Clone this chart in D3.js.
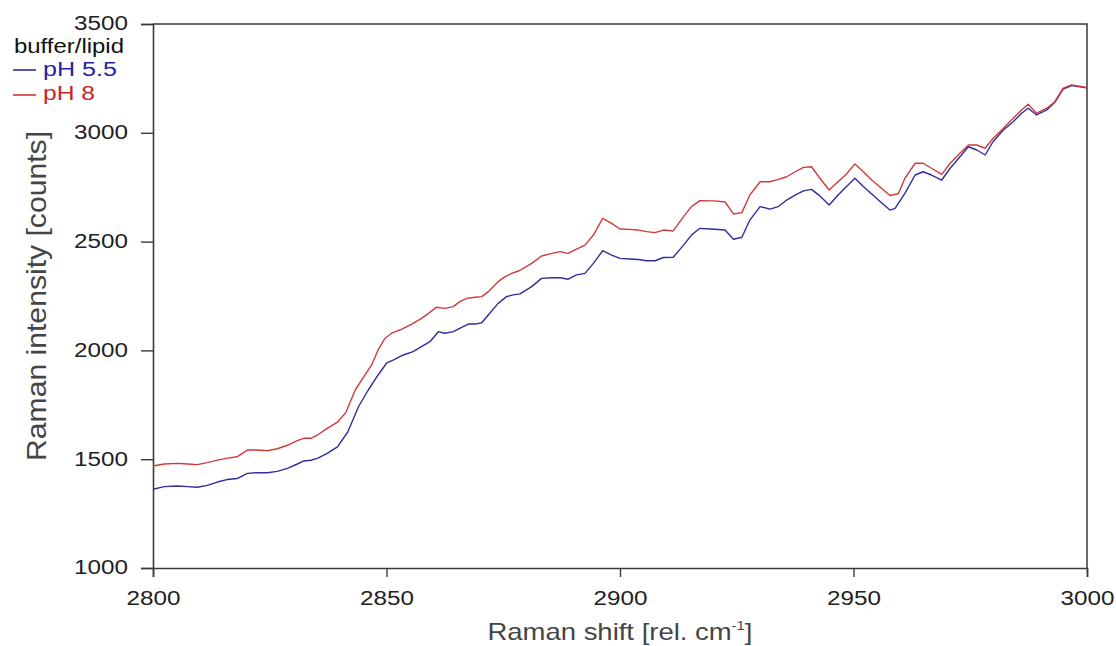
<!DOCTYPE html>
<html>
<head>
<meta charset="utf-8">
<script src="https://cdn.jsdelivr.net/npm/d3@7"></script>
<style>
  html, body { margin: 0; padding: 0; background: #fff; }
  svg { display: block; font-family: "Liberation Sans", Arial, sans-serif; }
</style>
</head>
<body>
<svg id="chart" width="1116" height="646"></svg>
<script>
// ---------- data ----------
const xTicks = [2800, 2850, 2900, 2950, 3000];
const yTicks = [1000, 1500, 2000, 2500, 3000, 3500];
const legendTitle = "buffer/lipid";
const seriesNames = ["pH 5.5", "pH 8"];

const shiftPH55 = [2800, 2802.4, 2805.2, 2807.4, 2809.5, 2811.6, 2813.8, 2816, 2818, 2820.2, 2822.3, 2824.5, 2826.6, 2828.8, 2830.9, 2832.3, 2833.8, 2835.2, 2837.3, 2839.5, 2841.7, 2844, 2846.1, 2848.2, 2850, 2851.5, 2853.6, 2855.7, 2857.5, 2859.3, 2861.1, 2862.5, 2864.3, 2866.1, 2867.5, 2869, 2870.4, 2871.8, 2873.9, 2875.7, 2877.1, 2878.6, 2881.1, 2883.2, 2885.4, 2887.2, 2888.9, 2890.7, 2892.5, 2894.3, 2896.3, 2898.2, 2900, 2902.1, 2903.9, 2905.7, 2907.5, 2909.3, 2911.4, 2913.6, 2915.3, 2917.1, 2919.3, 2920.3, 2922.5, 2924.3, 2926.1, 2927.8, 2930, 2932.1, 2933.9, 2935.7, 2937.5, 2939.3, 2941, 2942.8, 2944.8, 2946.7, 2948.5, 2950.3, 2952.1, 2953.9, 2956, 2957.8, 2958.9, 2961, 2963.2, 2964.9, 2966.7, 2968.9, 2970.7, 2972.8, 2974.6, 2976.4, 2978.2, 2979.9, 2982.1, 2984.2, 2986, 2987.4, 2989.2, 2991.4, 2993.1, 2994.9, 2996.7, 2998.1, 3000];
const intensityPH55 = [1362, 1374, 1377, 1374, 1371, 1380, 1395, 1407, 1411, 1435, 1438, 1438, 1444, 1458, 1478, 1492, 1495, 1504, 1527, 1557, 1625, 1741, 1818, 1887, 1941, 1956, 1979, 1994, 2017, 2040, 2086, 2079, 2086, 2106, 2121, 2121, 2127, 2163, 2216, 2247, 2255, 2260, 2293, 2331, 2334, 2334, 2327, 2347, 2354, 2400, 2458, 2438, 2423, 2420, 2418, 2412, 2412, 2427, 2428, 2484, 2530, 2561, 2558, 2557, 2553, 2511, 2520, 2599, 2661, 2649, 2661, 2691, 2714, 2733, 2740, 2710, 2668, 2714, 2753, 2791, 2753, 2719, 2679, 2645, 2653, 2722, 2806, 2821, 2806, 2783, 2837, 2890, 2936, 2921, 2898, 2960, 3013, 3051, 3090, 3113, 3082, 3105, 3140, 3201, 3217, 3212, 3207];

const shiftPH8 = [2800, 2802.4, 2805.2, 2807.4, 2809.5, 2811.6, 2813.8, 2816, 2818, 2820.2, 2822.3, 2824.5, 2826.6, 2828.8, 2830.9, 2832.3, 2833.8, 2835.2, 2837.3, 2839.5, 2841.3, 2843.3, 2845.4, 2846.8, 2848.2, 2849.7, 2851.1, 2853.3, 2855.4, 2857.5, 2859, 2860.7, 2862.5, 2864.3, 2865.7, 2867.2, 2869, 2870.4, 2871.8, 2873.9, 2875.4, 2876.8, 2878.4, 2881.1, 2883.2, 2885.4, 2887.2, 2888.9, 2890.7, 2892.5, 2894.3, 2896.3, 2898.2, 2900, 2902.1, 2903.9, 2905.7, 2907.5, 2909.3, 2911.4, 2913.6, 2915.3, 2917.1, 2919.3, 2920.3, 2922.5, 2924.3, 2926.1, 2927.8, 2930, 2932.1, 2933.9, 2935.7, 2937.5, 2939.3, 2941, 2942.8, 2944.8, 2946.7, 2948.5, 2950.3, 2952.1, 2953.9, 2956, 2957.8, 2959.6, 2961, 2963.2, 2964.9, 2966.7, 2968.9, 2970.7, 2972.8, 2974.6, 2976.4, 2978.2, 2979.9, 2982.1, 2984.2, 2986, 2987.4, 2989.2, 2991.4, 2993.1, 2994.9, 2996.7, 2998.1, 3000];
const intensityPH8 = [1469, 1478, 1481, 1478, 1475, 1484, 1496, 1505, 1511, 1542, 1542, 1539, 1548, 1564, 1585, 1596, 1596, 1611, 1642, 1670, 1715, 1818, 1887, 1933, 2002, 2056, 2079, 2098, 2121, 2147, 2170, 2198, 2193, 2201, 2224, 2239, 2244, 2247, 2270, 2316, 2339, 2354, 2366, 2400, 2434, 2446, 2454, 2446, 2465, 2484, 2530, 2607, 2584, 2558, 2556, 2553, 2546, 2541, 2553, 2549, 2615, 2661, 2688, 2687, 2687, 2682, 2627, 2633, 2714, 2775, 2775, 2786, 2798, 2821, 2841, 2844, 2791, 2737, 2775, 2811, 2857, 2821, 2783, 2745, 2712, 2720, 2791, 2860, 2860, 2837, 2809, 2860, 2906, 2944, 2944, 2929, 2975, 3021, 3067, 3105, 3131, 3090, 3113, 3143, 3205, 3220, 3215, 3207];

// ---------- layout ----------
const margin = { left: 153, right: 1116 - 1087, top: 24, bottom: 646 - 568 };
const width = 1116, height = 646;
const colors = { ph55: "#2e2e9c", ph8: "#d23a3a", ph55Text: "#2323a0", ph8Text: "#cc2424" };

const svg = d3.select("#chart");
const x = d3.scaleLinear().domain([2800, 3000]).range([margin.left, width - margin.right]);
const y = d3.scaleLinear().domain([1000, 3500]).range([height - margin.bottom, margin.top]);

// frame (top and right)
svg.append("path")
  .attr("d", `M${x(2800)},${y(3500)}H${x(3000)}V${y(1000)}`)
  .attr("fill", "none").attr("stroke", "#3a3a3a").attr("stroke-width", 1.5);

// axes
const xAxis = svg.append("g")
  .attr("transform", `translate(0,${y(1000)})`)
  .call(d3.axisBottom(x).tickValues(xTicks).tickFormat(d3.format("d")).tickSizeOuter(0).tickSize(9).tickPadding(14));
const yAxis = svg.append("g")
  .attr("transform", `translate(${x(2800)},0)`)
  .call(d3.axisLeft(y).tickValues(yTicks).tickFormat(d3.format("d")).tickSizeOuter(0).tickSize(12).tickPadding(13));

[xAxis, yAxis].forEach(g => {
  g.select(".domain").attr("stroke", "#3a3a3a").attr("stroke-width", 1.6);
  g.selectAll(".tick line").attr("stroke", "#3a3a3a").attr("stroke-width", 1.4);
  g.selectAll(".tick text")
    .attr("font-size", 19.5)
    .attr("font-family", "Liberation Sans, Arial, sans-serif")
    .attr("fill", "#222")
    .attr("textLength", 54)
    .attr("lengthAdjust", "spacingAndGlyphs");
});
yAxis.selectAll(".tick text").attr("dy", "0.3em");

// lines
const line = d3.line().x(d => x(d[0])).y(d => y(d[1]));
const seriesData = [
  { pts: d3.zip(shiftPH55, intensityPH55), color: colors.ph55 },
  { pts: d3.zip(shiftPH8, intensityPH8), color: colors.ph8 }
];
svg.append("g").selectAll("path").data(seriesData).join("path")
  .attr("d", d => line(d.pts))
  .attr("fill", "none")
  .attr("stroke", d => d.color)
  .attr("stroke-width", 1.4)
  .attr("stroke-linejoin", "round");

// axis titles
const xt = svg.append("text")
  .attr("x", (x(2800) + x(3000)) / 2).attr("y", 640)
  .attr("text-anchor", "middle")
  .attr("font-size", 24).attr("fill", "#454545")
  .attr("textLength", 265).attr("lengthAdjust", "spacingAndGlyphs");
xt.append("tspan").text("Raman shift [rel. cm");
xt.append("tspan").attr("font-size", 13).attr("dy", -10).text("-1");
xt.append("tspan").attr("dy", 10).text("]");

svg.append("text")
  .attr("transform", `translate(46,${(y(1000) + y(3500)) / 2}) rotate(-90)`)
  .attr("text-anchor", "middle")
  .attr("font-size", 28).attr("fill", "#454545")
  .attr("textLength", 330).attr("lengthAdjust", "spacingAndGlyphs")
  .text("Raman intensity [counts]");

// legend
const lg = svg.append("g");
lg.append("text").attr("x", 14).attr("y", 53)
  .attr("font-size", 20).attr("fill", "#111")
  .attr("textLength", 110).attr("lengthAdjust", "spacingAndGlyphs")
  .text(legendTitle);
const legendItems = [
  { name: seriesNames[0], color: colors.ph55, text: colors.ph55Text, ly: 70, ty: 76, tl: 74 },
  { name: seriesNames[1], color: colors.ph8, text: colors.ph8Text, ly: 95, ty: 100, tl: 52 }
];
legendItems.forEach(it => {
  lg.append("line").attr("x1", 13).attr("x2", 36).attr("y1", it.ly).attr("y2", it.ly)
    .attr("stroke", it.color).attr("stroke-width", 1.6);
  lg.append("text").attr("x", 43).attr("y", it.ty)
    .attr("font-size", 20).attr("fill", it.text)
    .attr("textLength", it.tl).attr("lengthAdjust", "spacingAndGlyphs")
    .text(it.name);
});
</script>
</body>
</html>
